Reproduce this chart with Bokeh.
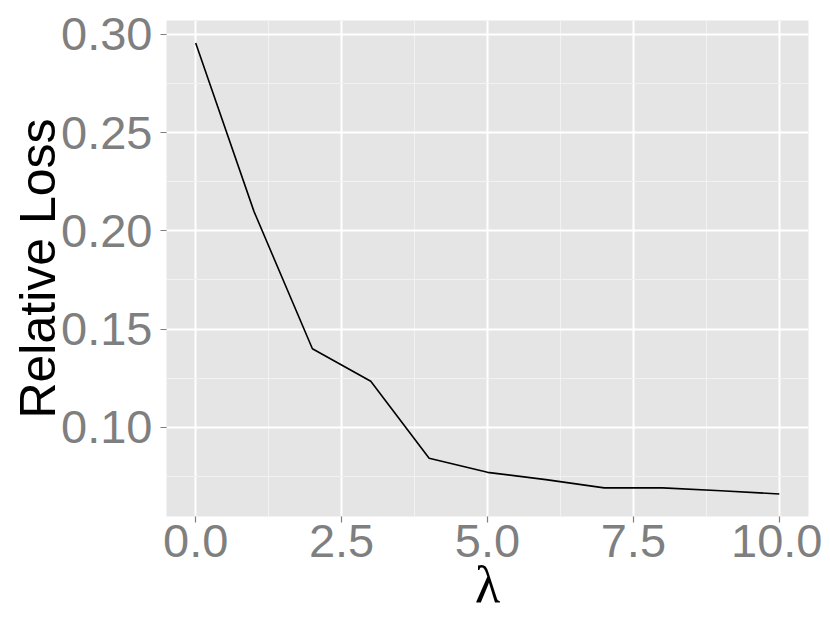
from bokeh.plotting import figure
from bokeh.models import Range1d, FixedTicker, NumeralTickFormatter
from bokeh.embed import file_html
from bokeh.resources import INLINE

# ---- data ----
lam = [0, 1, 2, 3, 4, 5, 6, 7, 8, 9, 10]
rel_loss = [0.2956, 0.2098, 0.1400, 0.1235, 0.0843, 0.0771, 0.0734, 0.0692, 0.0692, 0.0677, 0.0661]
x_ticks = [0, 2.5, 5, 7.5, 10]
x_minor = [1.25, 3.75, 6.25, 8.75]
y_ticks = [0.10, 0.15, 0.20, 0.25, 0.30]
y_minor = [0.075, 0.125, 0.175, 0.225, 0.275]
x_title = "λ"
y_title = "Relative Loss"

def expand(vals, f=0.05):
    lo, hi = min(vals), max(vals)
    d = (hi - lo) * f
    return lo - d, hi + d

x0, x1 = expand(lam)
y0, y1 = expand(rel_loss)

p = figure(width=822, height=615, output_backend="svg", toolbar_location=None,
           x_range=Range1d(x0, x1), y_range=Range1d(y0, y1),
           min_border_left=166, min_border_right=14, min_border_top=20, min_border_bottom=98)

p.background_fill_color = "#E5E5E5"
p.border_fill_color = "white"
p.outline_line_color = None

p.line(lam, rel_loss, line_color="black", line_width=1.6)

p.xaxis.ticker = FixedTicker(ticks=x_ticks, minor_ticks=x_minor)
p.yaxis.ticker = FixedTicker(ticks=y_ticks, minor_ticks=y_minor)
p.xaxis.formatter = NumeralTickFormatter(format="0.0")
p.yaxis.formatter = NumeralTickFormatter(format="0.00")

for g in (p.xgrid, p.ygrid):
    g.grid_line_color = "white"
    g.grid_line_width = 2
    g.minor_grid_line_color = "#F2F2F2"
    g.minor_grid_line_width = 1

for ax in (p.xaxis, p.yaxis):
    ax.axis_line_color = None
    ax.major_tick_line_color = "#7F7F7F"
    ax.major_tick_line_width = 1.2
    ax.major_tick_in = 0
    ax.major_tick_out = 6
    ax.minor_tick_in = 0
    ax.minor_tick_out = 0
    ax.minor_tick_line_color = None
    ax.major_label_text_font = "Liberation Sans"
    ax.major_label_text_font_size = "47px"
    ax.major_label_text_color = "#7F7F7F"
    ax.axis_label_text_font_style = "normal"
    ax.axis_label_text_color = "black"

p.xaxis.axis_label = x_title
p.xaxis.axis_label_text_font = "Liberation Serif"
p.xaxis.axis_label_text_font_size = "52px"
p.xaxis.major_label_standoff = 2
p.xaxis.axis_label_standoff = -4

p.yaxis.axis_label = y_title
p.yaxis.axis_label_text_font = "Liberation Sans"
p.yaxis.axis_label_text_font_size = "50px"
p.yaxis.major_label_standoff = 8
p.yaxis.axis_label_standoff = -8

open("out.html", "w").write(file_html(p, INLINE))
